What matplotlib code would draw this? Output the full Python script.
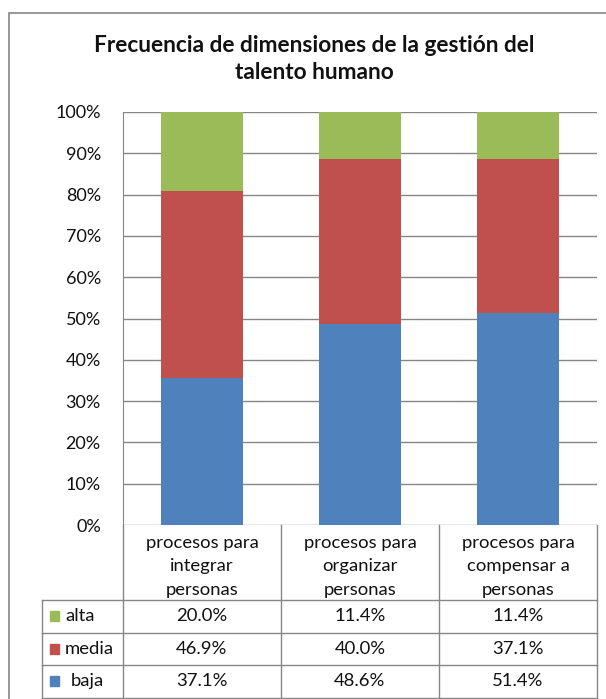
import numpy as np
import matplotlib
matplotlib.use("Agg")
import matplotlib.pyplot as plt
from matplotlib.patches import Rectangle
from matplotlib.ticker import PercentFormatter

# data
categories = ["procesos para\nintegrar\npersonas",
              "procesos para\norganizar\npersonas",
              "procesos para\ncompensar a\npersonas"]
series_names = ["baja", "media", "alta"]
baja = [37.1, 48.6, 51.4]
media = [46.9, 40.0, 37.1]
alta = [20.0, 11.4, 11.4]
colors = {"baja": "#4F81BD", "media": "#C0504D", "alta": "#9BBB59"}

title = "Frecuencia de dimensiones de la gestión del\ntalento humano"

plt.rcParams['font.family'] = ['Lato', 'DejaVu Sans']

W, H = 606, 699
fig = plt.figure(figsize=(W / 100, H / 100), dpi=100)

def fx(px):
    return px / W

def fy(py):
    return 1 - py / H

# outer chart frame (right side runs off the image)
fig.patches.append(Rectangle((fx(9), fy(740)), fx(700), fy(13) - fy(740),
                             transform=fig.transFigure, fill=False,
                             ec="#868686", lw=1.2))

fig.text(fx(314), fy(59), title, ha="center", va="center",
         fontsize=16.3, fontweight="bold", linespacing=1.3, color="#111111")

# main plot area
left, right, top, bottom = 123, 597, 112, 525
ax = fig.add_axes([fx(left), fy(bottom), fx(right - left), fy(top) - fy(bottom)])

vals = {"baja": np.array(baja), "media": np.array(media), "alta": np.array(alta)}
totals = vals["baja"] + vals["media"] + vals["alta"]
x = np.arange(len(categories)) + 0.5
base = np.zeros(len(categories))
for name in series_names:
    share = vals[name] / totals * 100
    ax.bar(x, share, width=0.52, bottom=base, color=colors[name], zorder=3)
    base += share

ax.set_xlim(0, 3)
ax.set_ylim(0, 100)
ax.set_yticks(np.arange(0, 101, 10))
ax.yaxis.set_major_formatter(PercentFormatter(decimals=0))
ax.tick_params(axis="y", length=0, labelsize=13, pad=16, labelcolor="#111111")
ax.set_xticks([])
ax.grid(axis="y", color="#868686", lw=1, zorder=0)
for s in ["top", "right", "bottom"]:
    ax.spines[s].set_visible(False)
ax.spines["left"].set_color("#868686")

# data table under the plot
tab_left = 42
header_bottom = 600
row_h = 32.5
line_kw = dict(color="#868686", lw=1, transform=fig.transFigure)
col_edges = [left + (right - left) * i / 3 for i in range(4)]

for cx in col_edges:
    fig.add_artist(plt.Line2D([fx(cx), fx(cx)], [fy(bottom), fy(header_bottom + 3 * row_h)], **line_kw))
fig.add_artist(plt.Line2D([fx(tab_left), fx(tab_left)], [fy(header_bottom), fy(header_bottom + 3 * row_h)], **line_kw))
for r in range(4):
    yy = header_bottom + r * row_h
    fig.add_artist(plt.Line2D([fx(tab_left), fx(right)], [fy(yy), fy(yy)], **line_kw))

for i, cat in enumerate(categories):
    cx = (col_edges[i] + col_edges[i + 1]) / 2
    fig.text(fx(cx), fy((bottom + header_bottom) / 2 + 4), cat, ha="center", va="center",
             fontsize=13.3, linespacing=1.55, color="#111111")

row_order = ["alta", "media", "baja"]
for r, name in enumerate(row_order):
    yc = header_bottom + (r + 0.5) * row_h
    fig.patches.append(Rectangle((fx(50), fy(yc + 5)), fx(9), fy(yc - 5) - fy(yc + 5),
                                 transform=fig.transFigure, color=colors[name]))
    fig.text(fx(65 if name != "baja" else 71), fy(yc), name, ha="left", va="center",
             fontsize=13.3, color="#111111")
    for i, v in enumerate(vals[name]):
        cx = (col_edges[i] + col_edges[i + 1]) / 2
        fig.text(fx(cx), fy(yc), f"{v:.1f}%", ha="center", va="center",
                 fontsize=13.3, color="#111111")

fig.savefig("out.png", dpi=100)
